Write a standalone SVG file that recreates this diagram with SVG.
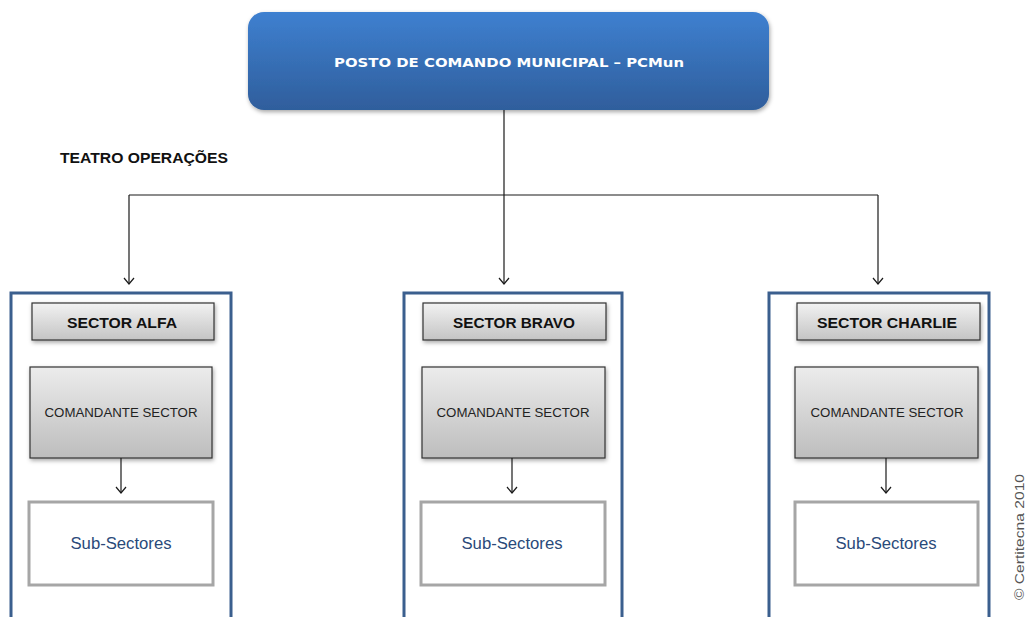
<svg xmlns="http://www.w3.org/2000/svg" width="1027" height="617" viewBox="0 0 1027 617">
<style>
.conn{fill:none;stroke:#1a1a1a;stroke-width:1.2}
.cont{fill:#fff;stroke:#3b5f8e;stroke-width:3}
.hdr{fill:url(#gHdr);stroke:#333;stroke-width:1.2}
.cmd{fill:url(#gCmd);stroke:#333;stroke-width:1.2}
.sub{fill:#fff;stroke:#a6a6a6;stroke-width:3}
.th{font-family:"Liberation Sans",Arial,sans-serif;font-weight:bold;font-size:15px;fill:#111;text-anchor:middle}
.tc{font-family:"Liberation Sans",Arial,sans-serif;font-size:12.5px;fill:#222;text-anchor:middle}
.ts{font-family:"Liberation Sans",Arial,sans-serif;font-size:16px;fill:#2a4a7a;text-anchor:middle}
</style>
<defs>
<linearGradient id="gTop" x1="0" y1="0" x2="0" y2="1">
<stop offset="0" stop-color="#3e80d0"/>
<stop offset="1" stop-color="#2f5e9c"/>
</linearGradient>
<linearGradient id="gHdr" x1="0" y1="0" x2="0" y2="1">
<stop offset="0" stop-color="#f2f2f2"/>
<stop offset="1" stop-color="#c4c4c4"/>
</linearGradient>
<linearGradient id="gCmd" x1="0" y1="0" x2="0" y2="1">
<stop offset="0" stop-color="#ececec"/>
<stop offset="1" stop-color="#bdbdbd"/>
</linearGradient>
<filter id="sh" x="-10%" y="-10%" width="120%" height="130%">
<feDropShadow dx="1" dy="2" stdDeviation="2" flood-color="#000" flood-opacity="0.35"/>
</filter>
<marker id="arr" markerWidth="12" markerHeight="12" refX="10" refY="6" orient="auto" markerUnits="userSpaceOnUse">
<path d="M4,1 L10,6 L4,11" fill="none" stroke="#1a1a1a" stroke-width="1.2"/>
</marker>
</defs>

<g id="connectors">
<path class="conn" d="M504,110 V195"/>
<path class="conn" d="M129,195 H878"/>
<path class="conn" d="M129,195 V284" marker-end="url(#arr)"/>
<path class="conn" d="M504,195 V284" marker-end="url(#arr)"/>
<path class="conn" d="M878,195 V284" marker-end="url(#arr)"/>
</g>

<g id="pcmun">
<rect x="248" y="12" width="521" height="98" rx="16" fill="url(#gTop)" filter="url(#sh)"/>
<text x="509" y="67" font-family="'DejaVu Sans',Verdana,sans-serif" font-weight="bold" font-size="12.5" fill="#fff" text-anchor="middle" textLength="350" lengthAdjust="spacingAndGlyphs">POSTO DE COMANDO MUNICIPAL – PCMun</text>
</g>

<g id="teatro">
<text x="60" y="163" font-family="'Liberation Sans',Arial,sans-serif" font-weight="bold" font-size="15" fill="#111" textLength="168" lengthAdjust="spacingAndGlyphs">TEATRO OPERAÇÕES</text>
</g>

<g id="sector-alfa">
<rect class="cont" x="11" y="293" width="220" height="350"/>
<rect class="hdr" x="32" y="303" width="182" height="37" filter="url(#sh)"/>
<text class="th" x="122" y="328" textLength="110" lengthAdjust="spacingAndGlyphs">SECTOR ALFA</text>
<rect class="cmd" x="30" y="367" width="182" height="91" filter="url(#sh)"/>
<text class="tc" x="121" y="417" textLength="153" lengthAdjust="spacingAndGlyphs">COMANDANTE SECTOR</text>
<path class="conn" d="M121,458 V493" marker-end="url(#arr)"/>
<rect class="sub" x="29" y="502" width="184" height="83"/>
<text class="ts" x="121" y="549" textLength="101" lengthAdjust="spacingAndGlyphs">Sub-Sectores</text>
</g>

<g id="sector-bravo">
<rect class="cont" x="404" y="293" width="218" height="350"/>
<rect class="hdr" x="423" y="303" width="183" height="37" filter="url(#sh)"/>
<text class="th" x="514" y="328" textLength="122" lengthAdjust="spacingAndGlyphs">SECTOR BRAVO</text>
<rect class="cmd" x="422" y="367" width="183" height="91" filter="url(#sh)"/>
<text class="tc" x="513" y="417" textLength="153" lengthAdjust="spacingAndGlyphs">COMANDANTE SECTOR</text>
<path class="conn" d="M512,458 V493" marker-end="url(#arr)"/>
<rect class="sub" x="421" y="502" width="184" height="83"/>
<text class="ts" x="512" y="549" textLength="101" lengthAdjust="spacingAndGlyphs">Sub-Sectores</text>
</g>

<g id="sector-charlie">
<rect class="cont" x="769" y="293" width="220" height="350"/>
<rect class="hdr" x="797" y="303" width="183" height="37" filter="url(#sh)"/>
<text class="th" x="887" y="328" textLength="140" lengthAdjust="spacingAndGlyphs">SECTOR CHARLIE</text>
<rect class="cmd" x="795" y="367" width="183" height="91" filter="url(#sh)"/>
<text class="tc" x="887" y="417" textLength="153" lengthAdjust="spacingAndGlyphs">COMANDANTE SECTOR</text>
<path class="conn" d="M886,458 V493" marker-end="url(#arr)"/>
<rect class="sub" x="795" y="502" width="183" height="83"/>
<text class="ts" x="886" y="549" textLength="101" lengthAdjust="spacingAndGlyphs">Sub-Sectores</text>
</g>

<g id="copyright">
<text transform="translate(1024,600) rotate(-90)" font-family="'Liberation Sans',Arial,sans-serif" font-size="13" fill="#555" textLength="126" lengthAdjust="spacingAndGlyphs">© Certitecna 2010</text>
</g>
</svg>
